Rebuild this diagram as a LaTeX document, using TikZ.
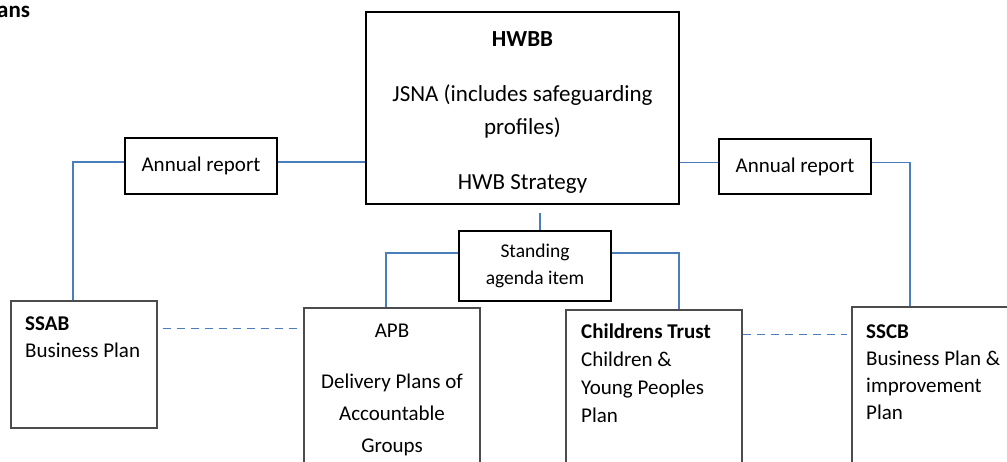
\documentclass[tikz,border=0pt]{standalone}
\usepackage{fontspec}
\setmainfont{Carlito}
\usetikzlibrary{positioning}
\definecolor{linkblue}{RGB}{74,126,187}
\tikzset{
  board/.style={draw, rectangle, line width=1.1pt, align=center, inner sep=0pt},
  lower/.style={board, draw=black!70},
  tag/.style={board, font=\fontsize{21}{26}\selectfont},
  txt/.style={inner sep=0pt, font=\fontsize{21}{27}\selectfont},
  link/.style={draw=linkblue, line width=1.4pt},
  peer/.style={link, dash pattern=on 8pt off 6pt},
}

\begin{document}
\begin{tikzpicture}[x=1pt, y=-1pt]
  \useasboundingbox (0,0) rectangle (1007,461);
  \clip (0,0) rectangle (1007,461);

  \node[anchor=base west, inner sep=0pt, font=\fontsize{23}{28}\selectfont\bfseries] (title) at (-3,17) {ans};

  % board at the top
  \node[board, minimum width=313pt, minimum height=192pt, font=\fontsize{23}{33}\selectfont] (hwbb) at (522.5,108)
    {\rule{0pt}{24pt}\textbf{HWBB}\\[22pt]
     JSNA (includes safeguarding\\
     profiles)\\[22pt]
     HWB Strategy};

  \node[tag, minimum width=152pt, minimum height=56pt] (ar-l) at (201,166) {Annual report};
  \node[tag, minimum width=152pt, minimum height=55pt] (ar-r) at (795,166.5) {Annual report};
  \node[board, minimum width=152pt, minimum height=70pt, font=\fontsize{19.5}{27}\selectfont] (sai) at (535,266)
    {Standing\\agenda item};

  % boards below, running off the bottom edge
  \node[lower, minimum width=146pt, minimum height=127pt] (ssab) at (84,364.5) {};
  \node[lower, minimum width=176pt, minimum height=200pt] (apb) at (392,408) {};
  \node[lower, minimum width=176pt, minimum height=200pt] (ct) at (654,410) {};
  \node[lower, minimum width=160pt, minimum height=200pt] (sscb) at (932,407) {};

  % text sits on the baseline of its last line
  \node[txt, anchor=base west, align=left] (ssab-txt) at (25,357)
    {\textbf{SSAB}\\Business Plan};
  \node[txt, anchor=base, align=center, font=\fontsize{21}{32}\selectfont] (apb-txt) at (392,452)
    {APB\\[19pt]
     Delivery Plans of\\
     Accountable\\
     Groups};
  \node[txt, anchor=base west, align=left, font=\fontsize{21}{28}\selectfont] (ct-txt) at (581,422)
    {\textbf{Childrens Trust}\\
     Children \&\\
     Young Peoples\\
     Plan};
  \node[txt, anchor=base west, align=left] (sscb-txt) at (866,419)
    {\textbf{SSCB}\\
     Business Plan \&\\
     improvement\\
     Plan};

  % reporting lines
  \draw[link] ([yshift=4pt]ar-l.east) coordinate (r1) -- (r1 -| hwbb.west);
  \draw[link] ([yshift=4pt]ar-r.west) coordinate (r2) -- (r2 -| hwbb.east);
  \draw[link] ([yshift=4pt]ar-l.west) -| ([xshift=-11pt]ssab.north);
  \draw[link] ([yshift=4pt]ar-r.east) -| ([xshift=-22pt]sscb.north);

  \coordinate (stub) at ([xshift=5pt, yshift=17pt]sai.north);
  \draw[link] (stub) -- (stub |- sai.north);
  \draw[link] ([yshift=13pt]sai.west) -| ([xshift=-6pt]apb.north);
  \draw[link] ([yshift=13pt]sai.east) -| ([xshift=25pt]ct.north);

  % peer links
  \draw[peer, shorten <=5pt, shorten >=4pt] ([yshift=-28pt]ssab.north east) coordinate (p1) -- (p1 -| apb.west);
  \draw[peer, shorten >=4pt] ([yshift=-25pt]ct.north east) coordinate (p2) -- (p2 -| sscb.west);
\end{tikzpicture}
\end{document}
